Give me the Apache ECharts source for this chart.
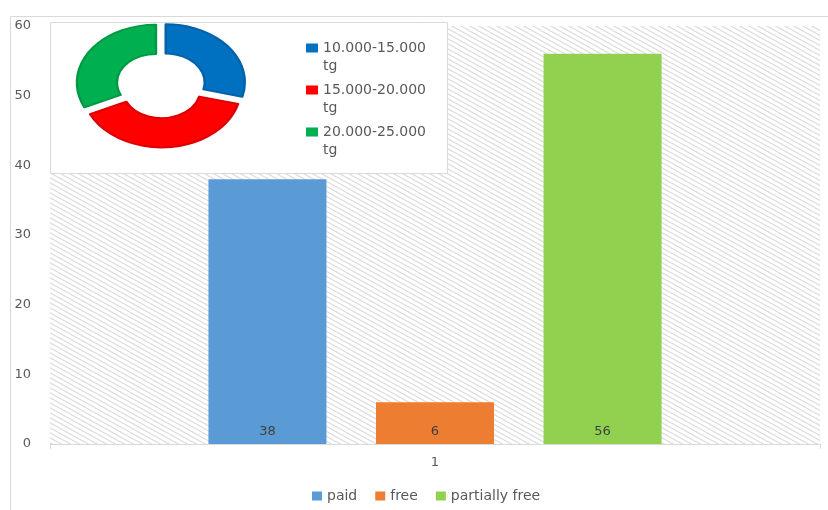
<!DOCTYPE html>
<html>
<head>
<meta charset="utf-8">
<script src="https://cdn.jsdelivr.net/npm/echarts@6/dist/echarts.min.js"></script>
<style>
  html, body { margin: 0; padding: 0; background: #ffffff; }
  #chart { width: 828px; height: 510px; }
</style>
</head>
<body>
<div id="chart"></div>
<script>
// Bar chart data
const categories = ['1'];
const barNames = ['paid', 'free', 'partially free'];
const paidValues = [38];
const freeValues = [6];
const partiallyFreeValues = [56];

// Value axis range
const yMin = 0;
const yMax = 60;
const yInterval = 10;

// Donut inset data
const donutNames = ['10.000-15.000 tg', '15.000-20.000 tg', '20.000-25.000 tg'];
const donutValues = [29, 39, 32];

// Styles
const barColors = ['#5b9bd5', '#ed7d31', '#92d050'];
const donutColors = ['#0070c0', '#ff0000', '#00b050'];
const donutEdges = ['#0062a8', '#dd0000', '#009a45'];
const FONT = 'DejaVu Sans';

// Donut geometry (pixels)
const CX = 161, CY = 85, R = 79, R0 = 39, OFF = 6, SQUASH = 0.735;

// Diagonal hatch tile for the plot background
function hatchTile() {
  const w = 9, h = 5;
  const c = document.createElement('canvas');
  c.width = w; c.height = h;
  const ctx = c.getContext('2d');
  ctx.fillStyle = '#ffffff';
  ctx.fillRect(0, 0, w, h);
  ctx.strokeStyle = '#dcdcdc';
  ctx.lineWidth = 1.1;
  for (let k = -1; k <= 1; k++) {
    ctx.beginPath();
    ctx.moveTo(-w, -h + k * h);
    ctx.lineTo(2 * w, 2 * h + k * h);
    ctx.stroke();
  }
  return c;
}

const donutTotal = donutValues.reduce((a, b) => a + b, 0);

function donutSeries(i) {
  const start = donutValues.slice(0, i).reduce((a, b) => a + b, 0);
  return {
    type: 'custom',
    name: donutNames[i],
    coordinateSystem: 'none',
    z: 10,
    itemStyle: { color: donutColors[i] },
    data: [[start, donutValues[i], donutTotal]],
    renderItem: function (params, api) {
      const s = api.value(0), v = api.value(1), t = api.value(2);
      const a0 = -Math.PI / 2 + 2 * Math.PI * s / t;
      const a1 = -Math.PI / 2 + 2 * Math.PI * (s + v) / t;
      const m = (a0 + a1) / 2;
      return {
        type: 'sector',
        shape: {
          cx: CX + OFF * Math.cos(m),
          cy: CY + OFF * Math.sin(m),
          r: R, r0: R0,
          startAngle: a0, endAngle: a1, clockwise: true
        },
        scaleY: SQUASH,
        originX: CX,
        originY: CY,
        style: { fill: api.visual('color'), stroke: donutEdges[i], lineWidth: 2.5, lineJoin: 'round' }
      };
    }
  };
}

function barSeries(name, values, color) {
  return {
    type: 'bar',
    name: name,
    data: values,
    barWidth: 118,
    barGap: '42%',
    itemStyle: { color: color },
    label: {
      show: true,
      position: 'insideBottom',
      distance: 6,
      color: '#404040',
      fontFamily: FONT,
      fontSize: 13
    }
  };
}

// Legend marker: a square at the top of a taller box, so it lines up with the first text line
const topSquareIcon = 'path://M0,0h12v9h-12z M0,26.99h0.01v0.01h-0.01z';

const chart = echarts.init(document.getElementById('chart'), null, { renderer: 'canvas' });

chart.setOption({
  animation: false,
  backgroundColor: '#ffffff',
  textStyle: { fontFamily: FONT },
  grid: {
    left: 50, right: 8, top: 26, bottom: 66,
    show: true,
    borderWidth: 0,
    backgroundColor: { image: hatchTile(), repeat: 'repeat' }
  },
  graphic: [
    {
      type: 'rect', z: 0, silent: true,
      shape: { x: 10.5, y: 16.5, width: 900, height: 600 },
      style: { fill: 'none', stroke: '#d9d9d9', lineWidth: 1 }
    },
    {
      type: 'rect', z: 5, silent: true,
      shape: { x: 50.5, y: 22.5, width: 397, height: 151 },
      style: { fill: '#ffffff', stroke: '#d9d9d9', lineWidth: 1 }
    }
  ],
  legend: [
    {
      data: barNames,
      left: 312,
      top: 489,
      padding: 0,
      itemWidth: 10,
      itemHeight: 9,
      itemGap: 18,
      icon: 'rect',
      textStyle: { color: '#595959', fontFamily: FONT, fontSize: 14 }
    },
    {
      data: donutNames,
      orient: 'vertical',
      left: 306,
      top: 39,
      padding: 0,
      z: 20,
      itemWidth: 12,
      itemHeight: 27,
      itemGap: 6,
      icon: topSquareIcon,
      formatter: function (name) { return name.replace(' ', '\n'); },
      textStyle: {
        color: '#595959', fontFamily: FONT, fontSize: 14, lineHeight: 18
      }
    }
  ],
  xAxis: {
    type: 'category',
    data: categories,
    axisLine: { show: true, lineStyle: { color: '#d9d9d9', width: 1 } },
    axisTick: { show: true, alignWithLabel: false, length: 5, lineStyle: { color: '#d9d9d9' } },
    axisLabel: { color: '#595959', fontFamily: FONT, fontSize: 13, margin: 12 },
    splitLine: { show: false }
  },
  yAxis: {
    type: 'value',
    min: yMin,
    max: yMax,
    interval: yInterval,
    axisLine: { show: false },
    axisTick: { show: false },
    splitLine: { show: false },
    axisLabel: { color: '#595959', fontFamily: FONT, fontSize: 13, margin: 19 }
  },
  series: [
    barSeries(barNames[0], paidValues, barColors[0]),
    barSeries(barNames[1], freeValues, barColors[1]),
    barSeries(barNames[2], partiallyFreeValues, barColors[2]),
    donutSeries(0),
    donutSeries(1),
    donutSeries(2)
  ]
});
</script>
</body>
</html>
